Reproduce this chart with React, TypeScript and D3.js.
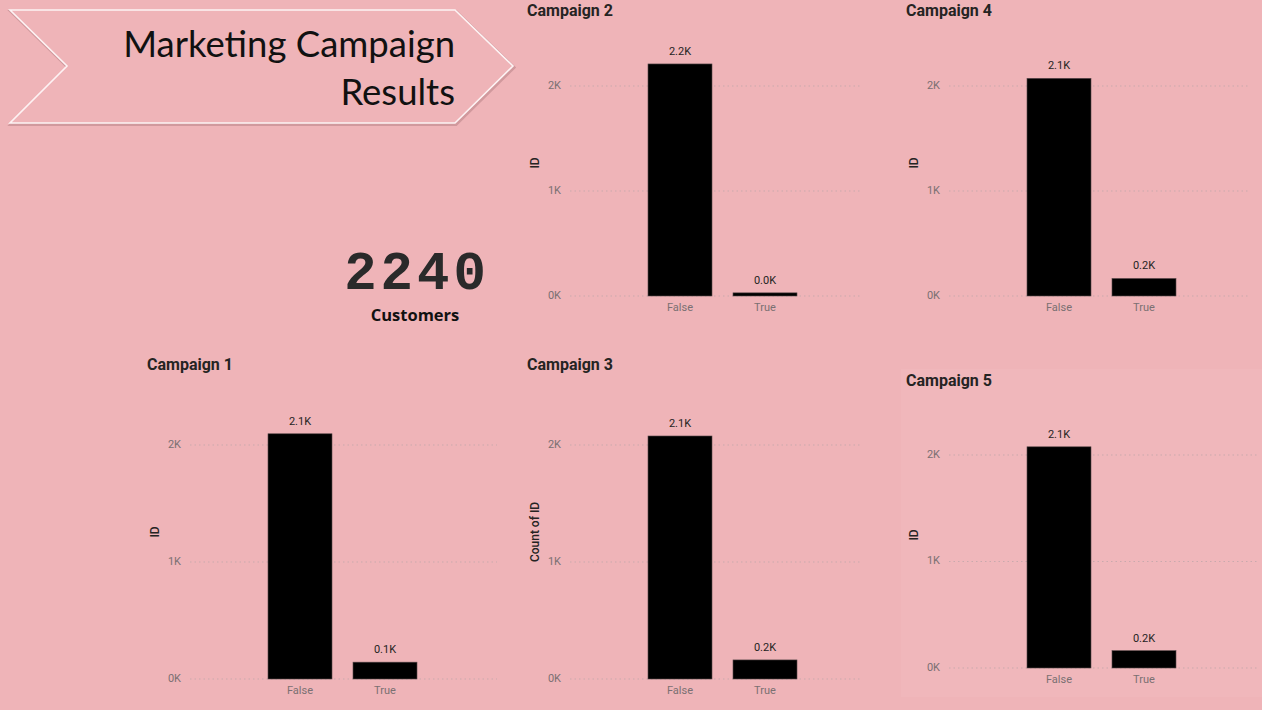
import React from 'react';
import { scaleBand, scaleLinear } from 'd3';

// counts of customers per response (AcceptedCmpN)
const categories = ['False', 'True'];
const campaign1 = [2096, 144];
const campaign2 = [2210, 30];
const campaign3 = [2077, 163];
const campaign4 = [2073, 167];
const campaign5 = [2077, 163];
const yTicks = [0, 1000, 2000];
const tickLabels = ['0K', '1K', '2K'];
const totalCustomers = 2240;

const BG = '#efb4b8';
const DARK = '#252423';
const GREY = '#7a7072';
const UI_FONT = "Roboto, 'Open Sans', sans-serif";

// where each visual sits on the page
const panels = [
    { title: 'Campaign 1', values: campaign1, yTitle: 'ID', left: 147, titleBase: 370, zeroY: 679, topTickY: 445, plotTop: 385, gridRight: 497 },
    { title: 'Campaign 2', values: campaign2, yTitle: 'ID', left: 527, titleBase: 16, zeroY: 296, topTickY: 86, plotTop: 30, gridRight: 860 },
    { title: 'Campaign 3', values: campaign3, yTitle: 'Count of ID', left: 527, titleBase: 370, zeroY: 679, topTickY: 445, plotTop: 385, gridRight: 860 },
    { title: 'Campaign 4', values: campaign4, yTitle: 'ID', left: 906, titleBase: 16, zeroY: 296, topTickY: 86, plotTop: 30, gridRight: 1250 },
    { title: 'Campaign 5', values: campaign5, yTitle: 'ID', left: 906, titleBase: 386, zeroY: 668, topTickY: 455, plotTop: 402, gridRight: 1258 },
];

type Panel = typeof panels[number];

function CampaignChart({ p }: { p: Panel }) {
    const y = scaleLinear().domain([0, 2000]).range([p.zeroY, p.topTickY]);
    const x = scaleBand<string>()
        .domain(categories)
        .range([p.left + 110.5, p.left + 280.5])
        .paddingInner(0.247)
        .paddingOuter(0.1235);
    const fmt = (v: number) => (v / 1000).toFixed(1) + 'K';

    return (
        <g>
            <text x={p.left} y={p.titleBase} fontFamily={UI_FONT} fontWeight={700} fontSize={16} fill={DARK}>
                {p.title}
            </text>
            {yTicks.map((t, i) => (
                <g key={t}>
                    <line
                        x1={p.left + 43}
                        x2={p.gridRight}
                        y1={y(t)}
                        y2={y(t)}
                        stroke="#c9a9ac"
                        strokeWidth={1}
                        strokeDasharray="1.5,3"
                    />
                    <text
                        x={p.left + 34}
                        y={y(t)}
                        textAnchor="end"
                        dominantBaseline="middle"
                        fontFamily={UI_FONT}
                        fontSize={11}
                        fill={GREY}
                    >
                        {tickLabels[i]}
                    </text>
                </g>
            ))}
            <text
                transform={`translate(${p.left + 12},${(p.plotTop + p.zeroY) / 2}) rotate(-90)`}
                textAnchor="middle"
                fontFamily={UI_FONT}
                fontWeight={500}
                fontSize={12}
                fill={DARK}
            >
                {p.yTitle}
            </text>
            {categories.map((c, i) => {
                const v = p.values[i];
                const bx = x(c) as number;
                const top = y(v);
                return (
                    <g key={c}>
                        <rect
                            x={bx}
                            y={top}
                            width={x.bandwidth()}
                            height={Math.max(p.zeroY - top, 2)}
                            fill="#000"
                            stroke="#5a4a4c"
                            strokeWidth={0.6}
                        />
                        <text
                            x={bx + x.bandwidth() / 2}
                            y={Math.min(top, p.zeroY - 2) - 12}
                            textAnchor="middle"
                            dominantBaseline="middle"
                            fontFamily={UI_FONT}
                            fontSize={11}
                            fill={DARK}
                        >
                            {fmt(v)}
                        </text>
                        <text
                            x={bx + x.bandwidth() / 2}
                            y={p.zeroY + 12}
                            textAnchor="middle"
                            dominantBaseline="middle"
                            fontFamily={UI_FONT}
                            fontSize={11}
                            fill={GREY}
                        >
                            {c}
                        </text>
                    </g>
                );
            })}
        </g>
    );
}

export default function App() {
    const arrow = '10,10 455,10 513,66 455,123 10,123 67,66';
    return (
        <svg
            width={1262}
            height={720}
            style={{ position: 'absolute', left: 0, top: 0, display: 'block', background: '#fff' }}
        >
            <rect x={0} y={0} width={1262} height={710} fill={BG} />
            {/* slightly lighter card behind campaign 5 */}
            <rect x={901} y={369} width={361} height={328} fill="#f0b7bb" />

            {/* header ribbon */}
            <polygon points={arrow} fill="none" stroke="rgba(120,70,75,0.25)" strokeWidth={3} transform="translate(1,1.5)" />
            <polygon points={arrow} fill={BG} stroke="#fdf3f4" strokeWidth={1.6} />
            <text
                x={455}
                y={57}
                textAnchor="end"
                fontFamily="'Comic Sans MS', Lato, sans-serif"
                fontSize={36.5}
                fill="#111"
            >
                Marketing Campaign
            </text>
            <text
                x={455}
                y={105}
                textAnchor="end"
                fontFamily="'Comic Sans MS', Lato, sans-serif"
                fontSize={36.5}
                fill="#111"
            >
                Results
            </text>

            {/* KPI card */}
            <text
                x={417}
                y={289}
                textAnchor="middle"
                fontFamily="'Liberation Mono', 'DejaVu Sans Mono', monospace"
                fontWeight={700}
                fontSize={54}
                letterSpacing={4}
                fill="#2a2a2a"
            >
                {totalCustomers}
            </text>
            <text x={415} y={321} textAnchor="middle" fontFamily="'Open Sans', sans-serif" fontWeight={700} fontSize={16.5} fill="#111">
                Customers
            </text>

            {panels.map((p) => (
                <CampaignChart key={p.title} p={p} />
            ))}
        </svg>
    );
}
